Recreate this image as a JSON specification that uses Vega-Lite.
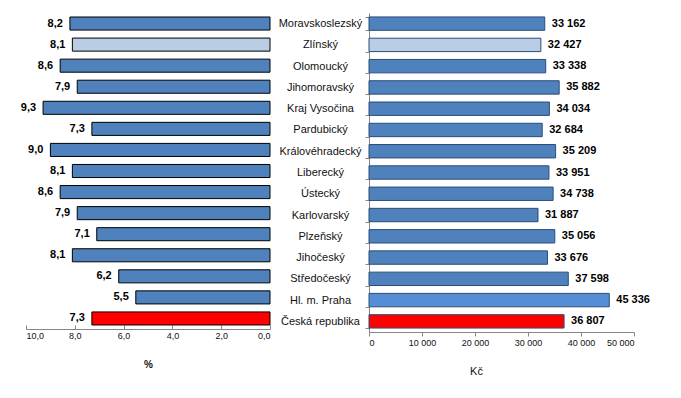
{
  "$schema": "https://vega.github.io/schema/vega-lite/v6.json",
  "background": "white",
  "padding": {"left": 20, "top": 7, "right": 5, "bottom": 5},
  "bounds": "flush",
  "spacing": 99,
  "data": {"values": [
    {"region": "Moravskoslezský", "pct": 8.2, "kc": 33162, "typ": "kraj"},
    {"region": "Zlínský", "pct": 8.1, "kc": 32427, "typ": "Zlínský"},
    {"region": "Olomoucký", "pct": 8.6, "kc": 33338, "typ": "kraj"},
    {"region": "Jihomoravský", "pct": 7.9, "kc": 35882, "typ": "kraj"},
    {"region": "Kraj Vysočina", "pct": 9.3, "kc": 34034, "typ": "kraj"},
    {"region": "Pardubický", "pct": 7.3, "kc": 32684, "typ": "kraj"},
    {"region": "Královéhradecký", "pct": 9.0, "kc": 35209, "typ": "kraj"},
    {"region": "Liberecký", "pct": 8.1, "kc": 33951, "typ": "kraj"},
    {"region": "Ústecký", "pct": 8.6, "kc": 34738, "typ": "kraj"},
    {"region": "Karlovarský", "pct": 7.9, "kc": 31887, "typ": "kraj"},
    {"region": "Plzeňský", "pct": 7.1, "kc": 35056, "typ": "kraj"},
    {"region": "Jihočeský", "pct": 8.1, "kc": 33676, "typ": "kraj"},
    {"region": "Středočeský", "pct": 6.2, "kc": 37598, "typ": "kraj"},
    {"region": "Hl. m. Praha", "pct": 5.5, "kc": 45336, "typ": "Praha"},
    {"region": "Česká republika", "pct": 7.3, "kc": 36807, "typ": "ČR"}
  ]},
  "config": {
    "locale": {"number": {"decimal": ",", "thousands": " ", "grouping": [3], "currency": ["", " Kč"]}},
    "view": {"stroke": null},
    "font": "Liberation Sans",
    "axis": {"grid": false, "domainColor": "#868686", "tickColor": "#868686", "labelColor": "#111111", "labelFont": "Liberation Sans", "labelFontSize": 9, "titleFont": "Liberation Sans", "titleColor": "#111111"}
  },
  "resolve": {"scale": {"color": "independent", "x": "independent"}},
  "hconcat": [
    {
      "width": 244,
      "height": 316,
      "encoding": {
        "y": {"field": "region", "type": "nominal", "sort": null, "axis": null, "scale": {"paddingInner": 0.38, "paddingOuter": 0.19}}
      },
      "layer": [
        {
          "mark": {"type": "bar", "stroke": "#000000", "strokeWidth": 1},
          "encoding": {
            "x": {"field": "pct", "type": "quantitative", "scale": {"domain": [0, 10], "reverse": true},
              "axis": {"values": [0, 2, 4, 6, 8, 10], "format": ".1f", "title": "%", "titleFontWeight": "bold", "titleFontSize": 10, "titleBaseline": "middle", "titleY": 35, "tickSize": -4, "labelPadding": 6}},
            "color": {"field": "typ", "type": "nominal", "legend": null,
              "scale": {"domain": ["kraj", "Zlínský", "Praha", "ČR"], "range": ["#4F81BD", "#B9CDE5", "#4F81BD", "#FF0000"]}}
          }
        },
        {
          "mark": {"type": "text", "align": "right", "baseline": "middle", "dx": -7, "fontWeight": "bold", "fontSize": 11, "color": "#000000"},
          "encoding": {
            "x": {"field": "pct", "type": "quantitative"},
            "text": {"field": "pct", "type": "quantitative", "format": ".1f"}
          }
        }
      ]
    },
    {
      "width": 265,
      "height": 319,
      "encoding": {
        "y": {"field": "region", "type": "nominal", "sort": null, "scale": {"paddingInner": 0.37, "paddingOuter": 0.185},
          "axis": {"title": null, "labelAlign": "center", "labelPadding": 45, "labelFontSize": 11, "tickBand": "extent", "tickSize": 4}}
      },
      "layer": [
        {
          "mark": {"type": "bar", "strokeWidth": 1, "stroke": "#2B4D77"},
          "encoding": {
            "x": {"field": "kc", "type": "quantitative", "scale": {"domain": [0, 50000]},
              "axis": {"values": [0, 10000, 20000, 30000, 40000, 50000], "format": ",d", "title": "Kč", "titleFontWeight": "normal", "titleFontSize": 11, "titleBaseline": "middle", "titleY": 39, "titleX": 107, "tickSize": 4, "labelPadding": 2}},
            "color": {"field": "typ", "type": "nominal", "legend": null,
              "scale": {"domain": ["kraj", "Zlínský", "Praha", "ČR"], "range": ["#4F81BD", "#B9CDE5", "#558ED5", "#FF0000"]}}
          }
        },
        {
          "mark": {"type": "text", "align": "left", "baseline": "middle", "dx": 7, "fontWeight": "bold", "fontSize": 11, "color": "#000000"},
          "encoding": {
            "x": {"field": "kc", "type": "quantitative"},
            "text": {"field": "kc", "type": "quantitative", "format": ",d"}
          }
        }
      ]
    }
  ]
}
